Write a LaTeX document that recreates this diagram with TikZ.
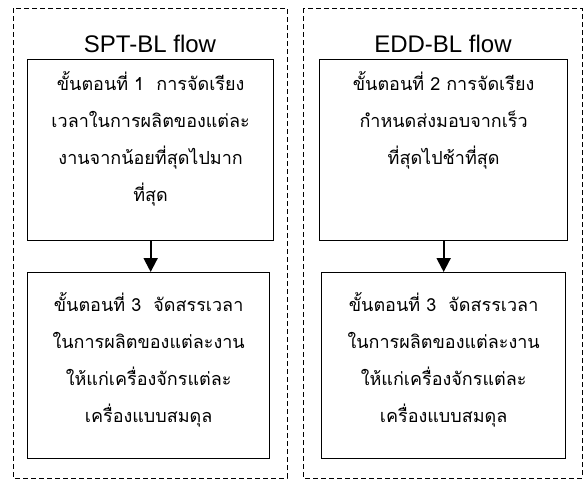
\documentclass[tikz,border=0pt]{standalone}
\usepackage{fontspec}
\setmainfont{Liberation Sans}
\newfontfamily\thaifont[Script=Thai]{Loma}
\usetikzlibrary{arrows.meta}
\begin{document}
\begin{tikzpicture}[x=1pt,y=-1pt,
  frame/.style={draw, line width=1pt, dash pattern=on 5pt off 3pt},
  stepbox/.style={draw, line width=1.3pt, inner sep=0pt, anchor=north west},
  steptext/.style={align=center, inner sep=0pt, anchor=north, font=\thaifont\fontsize{18}{37}\selectfont},
  title/.style={font=\fontsize{24}{28}\selectfont, anchor=base},
  flow/.style={line width=2pt, -{Triangle[width=14pt,length=14pt]}}]
\useasboundingbox (0,0) rectangle (583,480);
\draw[frame] (13,8) rectangle (287,478);
\draw[frame] (303,8) rectangle (582,478);
\node[title] (h1) at (150,52) {SPT-BL flow};
\node[title] (h2) at (443,52) {EDD-BL flow};
\node[stepbox, minimum width=246pt, minimum height=181pt] (b1) at (27,59) {};
\node[stepbox, minimum width=248pt, minimum height=181pt] (b2) at (319,59) {};
\node[stepbox, minimum width=242pt, minimum height=186pt] (b3) at (27,272) {};
\node[stepbox, minimum width=244pt, minimum height=186pt] (b4) at (321,272) {};
\node[steptext] (t1) at (b1.north |- 0,71) {ขั้นตอนที่ 1\ \ การจัดเรียง\\เวลาในการผลิตของแต่ละ\\งานจากน้อยที่สุดไปมาก\\ที่สุด};
\node[steptext] (t2) at (b2.north |- 0,71) {ขั้นตอนที่ 2 การจัดเรียง\\กำหนดส่งมอบจากเร็ว\\ที่สุดไปช้าที่สุด};
\node[steptext] (t3) at (b3.north |- 0,292) {ขั้นตอนที่ 3\ \ จัดสรรเวลา\\ในการผลิตของแต่ละงาน\\ให้แก่เครื่องจักรแต่ละ\\เครื่องแบบสมดุล};
\node[steptext] (t4) at (b4.north |- 0,292) {ขั้นตอนที่ 3\ \ จัดสรรเวลา\\ในการผลิตของแต่ละงาน\\ให้แก่เครื่องจักรแต่ละ\\เครื่องแบบสมดุล};
\draw[flow] (b1.south) -- (b1.south |- b3.north);
\draw[flow] (b2.south) -- (b2.south |- b4.north);
\end{tikzpicture}
\end{document}
